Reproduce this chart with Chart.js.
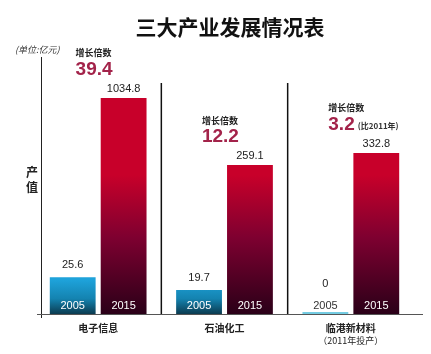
<!DOCTYPE html>
<html>
<head>
<meta charset="utf-8">
<script src="https://cdn.jsdelivr.net/npm/chart.js@4"></script>
<style>
  html, body { margin: 0; padding: 0; background: #fff; }
  #wrap { width: 431px; height: 354px; }
</style>
</head>
<body>
<div id="wrap"><canvas id="industryChart"></canvas></div>
<script>
// ----data---------
const categories = ["电子信息", "石油化工", "临港新材料"];
const categoryNotes = ["", "", "（2011年投产）"];
const years = ["2005", "2015"];
const values2005 = [25.6, 19.7, 0];
const values2015 = [1034.8, 259.1, 332.8];
const growthTimes = ["39.4", "12.2", "3.2"];
const growthNotes = ["", "", "(比2011年)"];

const CJK = "'Noto Sans CJK SC', 'Noto Sans', sans-serif";
const NUM = "'Liberation Sans', Arial, sans-serif";

function redFill(ctx) {
  const area = ctx.chart.chartArea;
  if (!area) return "#c8002a";
  const g = ctx.chart.ctx.createLinearGradient(0, 175, 0, area.bottom);
  g.addColorStop(0, "#c8002a");
  g.addColorStop(0.45, "#7e0030");
  g.addColorStop(1, "#2a0018");
  return g;
}

function blueFill(ctx) {
  const area = ctx.chart.chartArea;
  if (!area) return "#1a9fd8";
  const g = ctx.chart.ctx.createLinearGradient(0, 280, 0, area.bottom);
  g.addColorStop(0, "#1ea2da");
  g.addColorStop(0.55, "#1483b0");
  g.addColorStop(1, "#0b3b50");
  return g;
}

// ----texts and frame lines---------
const decorPlugin = {
  id: "decor",
  afterDatasetsDraw(chart) {
    const ctx = chart.ctx;
    const area = chart.chartArea;
    const x = chart.scales.x;
    ctx.save();

    // title
    ctx.fillStyle = "#111";
    ctx.textAlign = "center";
    ctx.textBaseline = "middle";
    ctx.font = "bold 21px " + CJK;
    ctx.fillText("三大产业发展情况表", 230, 27);

    // unit
    ctx.font = "italic 9px " + CJK;
    ctx.fillStyle = "#333";
    ctx.textAlign = "left";
    ctx.fillText("(单位:亿元)", 15, 50);

    // y title
    ctx.font = "bold 12px " + CJK;
    ctx.fillStyle = "#222";
    ctx.textAlign = "center";
    ctx.fillText("产", 32, 172);
    ctx.fillText("值", 32, 187);

    // left axis + baseline
    ctx.strokeStyle = "#222";
    ctx.lineWidth = 1;
    ctx.beginPath();
    ctx.moveTo(41.5, 57);
    ctx.lineTo(41.5, 318);
    ctx.stroke();
    ctx.strokeStyle = "#555";
    ctx.beginPath();
    ctx.moveTo(37, area.bottom + 0.5);
    ctx.lineTo(423, area.bottom + 0.5);
    ctx.stroke();

    // dividers between groups
    ctx.strokeStyle = "#111";
    ctx.lineWidth = 1.5;
    for (let i = 0; i < categories.length - 1; i++) {
      const dx = (x.getPixelForValue(i) + x.getPixelForValue(i + 1)) / 2;
      ctx.beginPath();
      ctx.moveTo(dx, 83);
      ctx.lineTo(dx, area.bottom);
      ctx.stroke();
    }

    // category labels
    ctx.fillStyle = "#222";
    categories.forEach((c, i) => {
      const cx = x.getPixelForValue(i);
      ctx.font = "bold 10px " + CJK;
      ctx.fillText(c, cx, 328);
      if (categoryNotes[i]) {
        ctx.font = "9px " + CJK;
        ctx.fillText(categoryNotes[i], cx, 341);
      }
    });

    // bar labels
    chart.data.datasets.forEach((ds, di) => {
      const meta = chart.getDatasetMeta(di);
      meta.data.forEach((bar, i) => {
        const v = ds.data[i];
        const yearY = area.bottom - 8;
        // zero value: log scale skips it, mark it as a thin line on the base
        if (v === 0) {
          ctx.fillStyle = "#74cce2";
          ctx.fillRect(bar.x - bar.width / 2, area.bottom - 2, bar.width, 2);
        }
        ctx.textAlign = "center";
        ctx.font = "11px " + NUM;
        ctx.fillStyle = v === 0 ? "#333" : "#fff";
        ctx.fillText(years[di], bar.x, yearY);
        ctx.fillStyle = "#222";
        const by = isFinite(bar.y) ? bar.y : area.bottom;
        const top = Math.min(by, yearY - 10);
        ctx.fillText(String(v), bar.x, top - (di === 0 ? 12 : 9));
      });
    });

    // growth annotations above 2015 bars
    const meta15 = chart.getDatasetMeta(1);
    meta15.data.forEach((bar, i) => {
      const left = bar.x - 48;
      ctx.textAlign = "left";
      ctx.fillStyle = "#222";
      ctx.font = "bold 9px " + CJK;
      ctx.fillText("增长倍数", left, bar.y - 45);
      ctx.fillStyle = "#a3234a";
      ctx.font = "bold 19px " + NUM;
      ctx.fillText(growthTimes[i], left, bar.y - 28);
      if (growthNotes[i]) {
        const w = ctx.measureText(growthTimes[i]).width;
        ctx.fillStyle = "#333";
        ctx.font = "bold 8px " + CJK;
        ctx.fillText(growthNotes[i], left + w + 3, bar.y - 27);
      }
    });

    ctx.restore();
  },
};

const industryChart = new Chart(document.getElementById("industryChart"), {
  type: "bar",
  data: {
    labels: categories,
    datasets: [
      {
        label: years[0],
        data: values2005,
        backgroundColor: blueFill,
        categoryPercentage: 0.806,
        barPercentage: 0.9,
      },
      {
        label: years[1],
        data: values2015,
        backgroundColor: redFill,
        categoryPercentage: 0.806,
        barPercentage: 0.9,
      },
    ],
  },
  options: {
    responsive: true,
    maintainAspectRatio: false,
    animation: false,
    layout: {
      padding: { left: 35, right: 17, top: 98, bottom: 40 },
    },
    scales: {
      x: { display: false },
      y: {
        type: "logarithmic",
        display: false,
        min: 12,
        max: 1034.8,
        bounds: "data",
      },
    },
    plugins: {
      legend: { display: false },
      tooltip: { enabled: false },
    },
  },
  plugins: [decorPlugin],
});
</script>
</body>
</html>
